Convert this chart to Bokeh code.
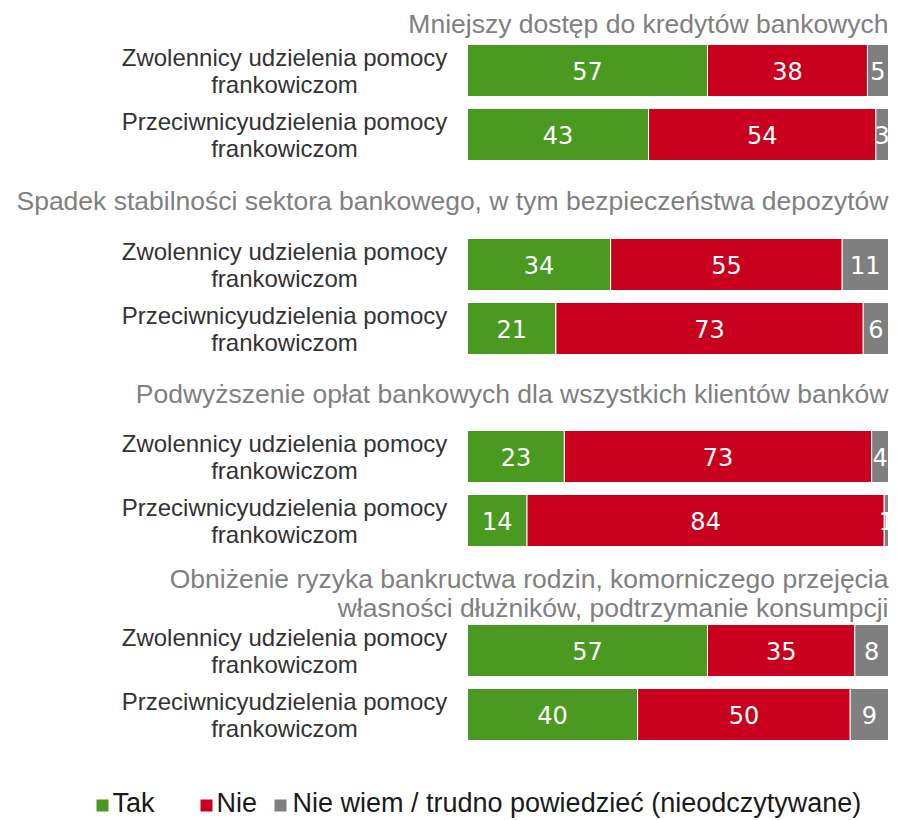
from bokeh.plotting import figure
from bokeh.models import Range1d, ColumnDataSource
from bokeh.core.properties import value
from bokeh.embed import file_html
from bokeh.resources import INLINE

# ---------------- data ----------------
group_titles = [
    ["Mniejszy dostęp do kredytów bankowych"],
    ["Spadek stabilności sektora bankowego, w tym bezpieczeństwa depozytów"],
    ["Podwyższenie opłat bankowych dla wszystkich klientów banków"],
    ["Obniżenie ryzyka bankructwa rodzin, komorniczego przejęcia",
     "własności dłużników, podtrzymanie konsumpcji"],
]
row_labels = [
    ["Zwolennicy udzielenia pomocy", "frankowiczom"],
    ["Przeciwnicyudzielenia pomocy", "frankowiczom"],
]
series = ["Tak", "Nie", "Nie wiem / trudno powiedzieć (nieodczytywane)"]
tak = [57, 43, 34, 21, 23, 14, 57, 40]
nie = [38, 54, 55, 73, 73, 84, 35, 50]
nw = [5, 3, 11, 6, 4, 1, 8, 9]
colors = ["#4a9a22", "#c8001e", "#7f7f7f"]

# ---------------- layout ----------------
W, H = 897, 820
OX, OY = 0, 0
BAR_L, BAR_R = 467, 888
scale = (BAR_R - BAR_L) / 100.0
x_start = (OX - BAR_L) / scale
x_end = (OX + W - BAR_L) / scale

p = figure(width=W, height=H, output_backend="svg", toolbar_location=None,
           x_range=Range1d(x_start, x_end), y_range=Range1d(OY + H, OY),
           min_border=0, outline_line_color=None)
p.axis.visible = False
p.grid.visible = False
p.background_fill_color = "white"
p.border_fill_color = "white"

group_y = [70, 264, 456, 650]
row_gap = 64
bar_h = 52
title_offsets = [[-47], [-64], [-63], [-72, -43]]

ys = []
for g in range(4):
    for r in range(2):
        ys.append(group_y[g] + r * row_gap)

vals = [tak, nie, nw]
totals = [tak[i] + nie[i] + nw[i] for i in range(8)]
left = [0.0] * 8
for s, col in enumerate(colors):
    widths = [vals[s][i] / totals[i] * 100 for i in range(8)]
    rights = [left[i] + widths[i] for i in range(8)]
    src = ColumnDataSource(dict(y=ys, left=list(left), right=rights,
                                mid=[(left[i] + rights[i]) / 2 for i in range(8)],
                                lab=[str(v) for v in vals[s]]))
    p.hbar(y="y", left="left", right="right", height=bar_h, source=src,
           fill_color=col, line_color="white", line_width=1)
    p.text(x="mid", y="y", text="lab", source=src, text_color="white",
           text_font=value("DejaVu Sans"), text_font_size="24px",
           text_align="center", text_baseline="middle")
    left = rights

# row labels
lx = (284 - BAR_L) / scale
for g in range(4):
    for r in range(2):
        y0 = group_y[g] + r * row_gap
        for k, line in enumerate(row_labels[r]):
            p.text(x=[lx], y=[y0 - 13.5 + 27 * k], text=[line],
                   text_font=value("Liberation Sans"), text_font_size="24px",
                   text_color="#333333", text_align="center", text_baseline="middle")

# group titles
for g in range(4):
    for line, off in zip(group_titles[g], title_offsets[g]):
        p.text(x=[100], y=[group_y[g] + off], text=[line],
               text_font=value("Liberation Sans"), text_font_size="26.5px",
               text_color="#808080", text_align="right", text_baseline="middle")

# legend
leg_sq_y = 805
leg_tx_y = 802
leg_sq_x = [102, 206, 280]
leg_tx_x = [112, 216, 292]
for i in range(3):
    p.scatter(x=[(leg_sq_x[i] - BAR_L) / scale], y=[leg_sq_y], marker="square",
              size=12, fill_color=colors[i], line_color=None)
    p.text(x=[(leg_tx_x[i] - BAR_L) / scale], y=[leg_tx_y], text=[series[i]],
           text_font=value("Liberation Sans"), text_font_size="27px",
           text_color="#1a1a1a", text_align="left", text_baseline="middle")

open("out.html", "w").write(file_html(p, INLINE))
